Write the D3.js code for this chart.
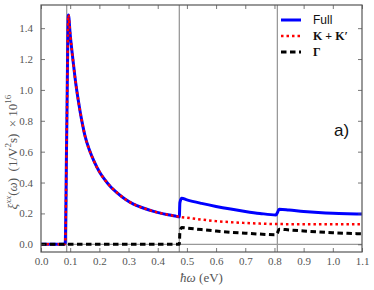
<!DOCTYPE html>
<html><head><meta charset="utf-8">
<script src="https://cdn.jsdelivr.net/npm/d3@7"></script>
<style>body{margin:0;background:#fff}svg{display:block}</style>
</head><body>
<svg id="c" width="374" height="290"></svg>
<script>
// Data (hbar*omega in eV, xi in 1e16 1/(V^2 s))
const fullX = [0, 0.08, 0.083, 0.088, 0.094, 0.1, 0.111, 0.12, 0.128, 0.134, 0.143, 0.151, 0.165, 0.18, 0.2, 0.214, 0.24, 0.26, 0.29, 0.317, 0.35, 0.386, 0.42, 0.46, 0.474, 0.476, 0.482, 0.5, 0.55, 0.6, 0.65, 0.7, 0.75, 0.805, 0.81, 0.816, 0.85, 0.9, 0.95, 1.0, 1.05, 1.1];
const fullY = [0, 0, 0.01, 0.7, 1.485, 1.36, 1.17, 1.03, 0.93, 0.86, 0.77, 0.70, 0.615, 0.545, 0.47, 0.43, 0.37, 0.335, 0.29, 0.26, 0.235, 0.213, 0.197, 0.183, 0.178, 0.27, 0.298, 0.288, 0.265, 0.245, 0.228, 0.213, 0.2, 0.19, 0.205, 0.227, 0.222, 0.213, 0.206, 0.201, 0.198, 0.196];
const kkX = [0, 0.08, 0.083, 0.088, 0.094, 0.1, 0.111, 0.12, 0.128, 0.134, 0.143, 0.151, 0.165, 0.18, 0.2, 0.214, 0.24, 0.26, 0.29, 0.317, 0.35, 0.386, 0.42, 0.46, 0.474, 0.5, 0.55, 0.6, 0.65, 0.7, 0.75, 0.8, 0.9, 1.0, 1.1];
const kkY = [0, 0, 0.01, 0.7, 1.485, 1.36, 1.17, 1.03, 0.93, 0.86, 0.77, 0.70, 0.615, 0.545, 0.47, 0.43, 0.37, 0.335, 0.29, 0.26, 0.235, 0.213, 0.197, 0.183, 0.178, 0.172, 0.16, 0.15, 0.143, 0.138, 0.134, 0.131, 0.13, 0.129, 0.129];
const gamX = [0, 0.474, 0.476, 0.482, 0.5, 0.55, 0.6, 0.65, 0.7, 0.75, 0.805, 0.81, 0.816, 0.85, 0.9, 0.95, 1.0, 1.05, 1.1];
const gamY = [0, 0, 0.08, 0.108, 0.105, 0.095, 0.086, 0.078, 0.072, 0.066, 0.062, 0.072, 0.098, 0.093, 0.086, 0.08, 0.075, 0.071, 0.068];
const vLines = [0.088, 0.474, 0.81];
const xTicks = [0.0,0.1,0.2,0.3,0.4,0.5,0.6,0.7,0.8,0.9,1.0,1.1];
const yTicks = [0.0,0.2,0.4,0.6,0.8,1.0,1.2,1.4];
const legendLabels = ["Full", "K + K\u2032", "\u0393"];

const svg = d3.select("#c");
const L=41, R=362, T=5, B=252;
const x = d3.scaleLinear().domain([0,1.1]).range([L,R]);
const y = d3.scaleLinear().domain([-0.05,1.55]).range([B,T]);
const axCol = "#555";
const serif = "'Liberation Serif','DejaVu Serif',serif";

svg.append("defs").append("clipPath").attr("id","clip")
  .append("rect").attr("x",L).attr("y",T).attr("width",R-L).attr("height",B-T);

// reference lines
const g0 = svg.append("g").attr("clip-path","url(#clip)");
g0.selectAll("line.v").data(vLines).join("line")
  .attr("x1",d=>x(d)).attr("x2",d=>x(d)).attr("y1",T).attr("y2",B)
  .attr("stroke","#999").attr("stroke-width",1.3);
g0.append("line").attr("x1",L).attr("x2",R).attr("y1",y(0)).attr("y2",y(0))
  .attr("stroke","#999").attr("stroke-width",1.3);

const line = d3.line().x(d=>x(d[0])).y(d=>y(d[1])).curve(d3.curveMonotoneX);
const zip = (a,b)=>a.map((v,i)=>[v,b[i]]);
const gl = svg.append("g").attr("clip-path","url(#clip)");
gl.append("path").attr("d",line(zip(fullX,fullY))).attr("fill","none")
  .attr("stroke","#0000ff").attr("stroke-width",3);
gl.append("path").attr("d",line(zip(kkX,kkY))).attr("fill","none")
  .attr("stroke","#ff0000").attr("stroke-width",2.5).attr("stroke-dasharray","2.5,3");
gl.append("path").attr("d",line(zip(gamX,gamY))).attr("fill","none")
  .attr("stroke","#000").attr("stroke-width",3).attr("stroke-dasharray","5.5,3.5");

// axes
function styleAxis(g){
  g.select(".domain").remove();
  g.selectAll(".tick line").attr("stroke",axCol).attr("stroke-width",0.8);
  g.selectAll(".tick text").attr("fill",axCol).style("font-family",serif).style("font-size","11px");
}
svg.append("g").attr("transform",`translate(0,${B})`)
  .call(d3.axisBottom(x).tickValues(xTicks).tickFormat(d3.format(".1f")).tickSizeInner(-4).tickSizeOuter(0).tickPadding(5))
  .call(styleAxis);
svg.append("g").attr("transform",`translate(0,${T})`)
  .call(d3.axisTop(x).tickValues(xTicks).tickFormat("").tickSizeInner(-4).tickSizeOuter(0))
  .call(styleAxis);
svg.append("g").attr("transform",`translate(${L},0)`)
  .call(d3.axisLeft(y).tickValues(yTicks).tickFormat(d3.format(".1f")).tickSizeInner(-4).tickSizeOuter(0).tickPadding(8))
  .call(styleAxis);
svg.append("g").attr("transform",`translate(${R},0)`)
  .call(d3.axisRight(y).tickValues(yTicks).tickFormat("").tickSizeInner(-4).tickSizeOuter(0))
  .call(styleAxis);

svg.append("rect").attr("x",L).attr("y",T).attr("width",R-L).attr("height",B-T)
  .attr("fill","none").attr("stroke",axCol).attr("stroke-width",1.2);

// axis labels
const xl = svg.append("text").attr("x",(L+R)/2).attr("y",282).attr("text-anchor","middle")
  .attr("fill",axCol).style("font-family",serif).style("font-size","13px");
xl.append("tspan").style("font-style","italic").text("\u0127\u03c9");
xl.append("tspan").text("\u00a0(eV)");

const yl = svg.append("text").attr("transform",`translate(17,152) rotate(-90)`)
  .attr("text-anchor","middle").attr("fill",axCol).style("font-family",serif).style("font-size","13px");
yl.append("tspan").style("font-style","italic").text("\u03be");
yl.append("tspan").attr("dy",-6).style("font-size","9px").style("font-style","italic").text("xx");
yl.append("tspan").attr("dy",6).text("(");
yl.append("tspan").style("font-style","italic").text("\u03c9");
yl.append("tspan").text(")\u00a0\u00a0(1/V");
yl.append("tspan").attr("dy",-6).style("font-size","9px").text("2");
yl.append("tspan").attr("dy",6).text("s)\u00a0\u00a0\u00d7\u00a010");
yl.append("tspan").attr("dy",-6).style("font-size","9px").text("16");

// legend
const legY = [20, 36, 52];
const legStyles = [
  {c:"#0000ff", w:3, d:null},
  {c:"#ff0000", w:2.5, d:"2.5,3"},
  {c:"#000", w:3, d:"5.5,3.5"}
];
const lg = svg.append("g");
legendLabels.forEach((lab,i)=>{
  const s = legStyles[i];
  lg.append("line").attr("x1",281).attr("x2",301).attr("y1",legY[i]).attr("y2",legY[i])
    .attr("stroke",s.c).attr("stroke-width",s.w).attr("stroke-dasharray",s.d);
  const t = lg.append("text").attr("x",313).attr("y",legY[i]+4).attr("fill","#111")
    .style("font-size","12px").text(lab);
  if(i===0) t.style("font-family","'Liberation Sans','DejaVu Sans',sans-serif");
  else t.style("font-family",serif).style("font-weight","bold");
});

svg.append("text").attr("x",334).attr("y",136).attr("fill","#111")
  .style("font-family","'Liberation Sans','DejaVu Sans',sans-serif").style("font-size","17px").text("a)");
</script>
</body></html>
